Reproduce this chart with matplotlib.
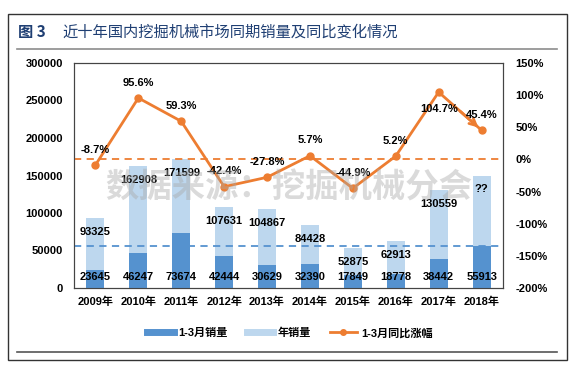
import numpy as np
import matplotlib.pyplot as plt
from matplotlib.lines import Line2D
from matplotlib.patches import Rectangle

plt.rcParams['font.family'] = ['Liberation Sans', 'Noto Sans CJK SC']
plt.rcParams['font.weight'] = 'bold'

# 数据
years = ['2009年', '2010年', '2011年', '2012年', '2013年',
         '2014年', '2015年', '2016年', '2017年', '2018年']
q1_sales = [23645, 46247, 73674, 42444, 30629, 32390, 17849, 18778, 38442, 55913]
year_sales = [93325, 162908, 171599, 107631, 104867, 84428, 52875, 62913, 130559, 150000]
year_labels = ['93325', '162908', '171599', '107631', '104867',
               '84428', '52875', '62913', '130559', '??']
q1_growth = [-8.7, 95.6, 59.3, -42.4, -27.8, 5.7, -44.9, 5.2, 104.7, 45.4]

dark_blue = '#5592cf'
light_blue = '#bdd7ee'
orange = '#ed7d31'

fig = plt.figure(figsize=(5.81, 3.65), dpi=100)
ax1 = fig.add_axes([74/581, 1-288/365, (503-74)/581, (288-63)/365])
ax2 = ax1.twinx()

x = np.arange(len(years))
w = 0.42
ax1.bar(x, year_sales, w, color=light_blue, zorder=2)
ax1.bar(x, q1_sales, w, color=dark_blue, zorder=3)
ax1.axhline(q1_sales[-1], color=dark_blue, ls=(0, (4, 3)), lw=1.3, zorder=4)

for i in range(len(years)):
    ax1.annotate(year_labels[i], (x[i], year_sales[i]), xytext=(0, -10),
                 textcoords='offset points', ha='center', va='center',
                 fontsize=8, fontweight='bold', zorder=6)
    ax1.text(x[i], 15000, str(q1_sales[i]), ha='center', va='center',
             fontsize=8, fontweight='bold', zorder=6)

ax1.set_ylim(0, 300000)
ax1.set_yticks(np.arange(0, 300001, 50000))
ax1.set_xlim(-0.5, len(years)-0.5)
ax1.set_xticks(x)
ax1.set_xticklabels(years)
ax1.tick_params(length=0, labelsize=8, pad=6)
ax1.tick_params(axis='y', pad=8)
for lab in ax1.get_xticklabels() + ax1.get_yticklabels():
    lab.set_fontweight('bold')

# 同比涨幅
ax2.axhline(0, color=orange, ls=(0, (4, 3)), lw=1.3, zorder=1)
ax2.plot(x, q1_growth, color=orange, lw=2, marker='o', markersize=5, zorder=3)
ax2.annotate('', xy=(x[-1], q1_growth[-1]), xytext=(x[-2]+0.5, (q1_growth[-2]+q1_growth[-1])/2),
             arrowprops=dict(arrowstyle='->', color=orange, lw=2, mutation_scale=12,
                             shrinkA=0, shrinkB=3), zorder=3)
for i in range(len(years)):
    dy = -12 if i == 8 else 11
    ax2.annotate('%.1f%%' % q1_growth[i], (x[i], q1_growth[i]), xytext=(0, dy),
                 textcoords='offset points', ha='center', va='center',
                 fontsize=8, fontweight='bold', zorder=6)
ax2.set_ylim(-200, 150)
ax2.set_yticks(np.arange(-200, 151, 50))
ax2.set_yticklabels(['%d%%' % v for v in range(-200, 151, 50)])
ax2.tick_params(length=0, labelsize=8, pad=9)
for lab in ax2.get_yticklabels():
    lab.set_fontweight('bold')

for ax in (ax1, ax2):
    for s in ax.spines.values():
        s.set_color('#444444')
        s.set_linewidth(0.8)

# 水印
ax2.text(0.5, 0.44, '数据来源：挖掘机械分会', transform=ax2.transAxes, ha='center', va='center',
         fontsize=24, fontweight='bold', color='#a8a8a8', alpha=0.42, zorder=7)

# 标题和边框
fig.text(18/581, 1-32/365, '图 3', fontsize=11, color='#1f3f73', fontweight='bold', va='center',
         family=['Noto Sans CJK SC'])
fig.text(62/581, 1-32/365, '近十年国内挖掘机械市场同期销量及同比变化情况', fontsize=11,
         color='#1f3f73', fontweight='normal', va='center', family=['Noto Sans CJK SC'])
fig.patches.append(Rectangle((8/581, 1-360/365), (567-8)/581, (360-14)/365, transform=fig.transFigure,
                             fill=False, edgecolor='#333333', lw=1))
fig.lines.append(Line2D([17/581, 557/581], [1-49/365]*2, transform=fig.transFigure, color='#8c8c8c', lw=1.2))
fig.lines.append(Line2D([17/581, 557/581], [1-352/365]*2, transform=fig.transFigure, color='#555555', lw=1.2))

handles = [Line2D([], [], color=dark_blue, lw=5),
           Line2D([], [], color=light_blue, lw=5),
           Line2D([], [], color=orange, lw=2, marker='o', markersize=4)]
fig.legend(handles, ['1-3月销量', '年销量', '1-3月同比涨幅'], loc='center', ncol=3,
           bbox_to_anchor=(290/581, 1-333/365), frameon=False, fontsize=8,
           handlelength=2.4, columnspacing=1.7, handletextpad=0.4)

fig.savefig('out.png', dpi=100)
